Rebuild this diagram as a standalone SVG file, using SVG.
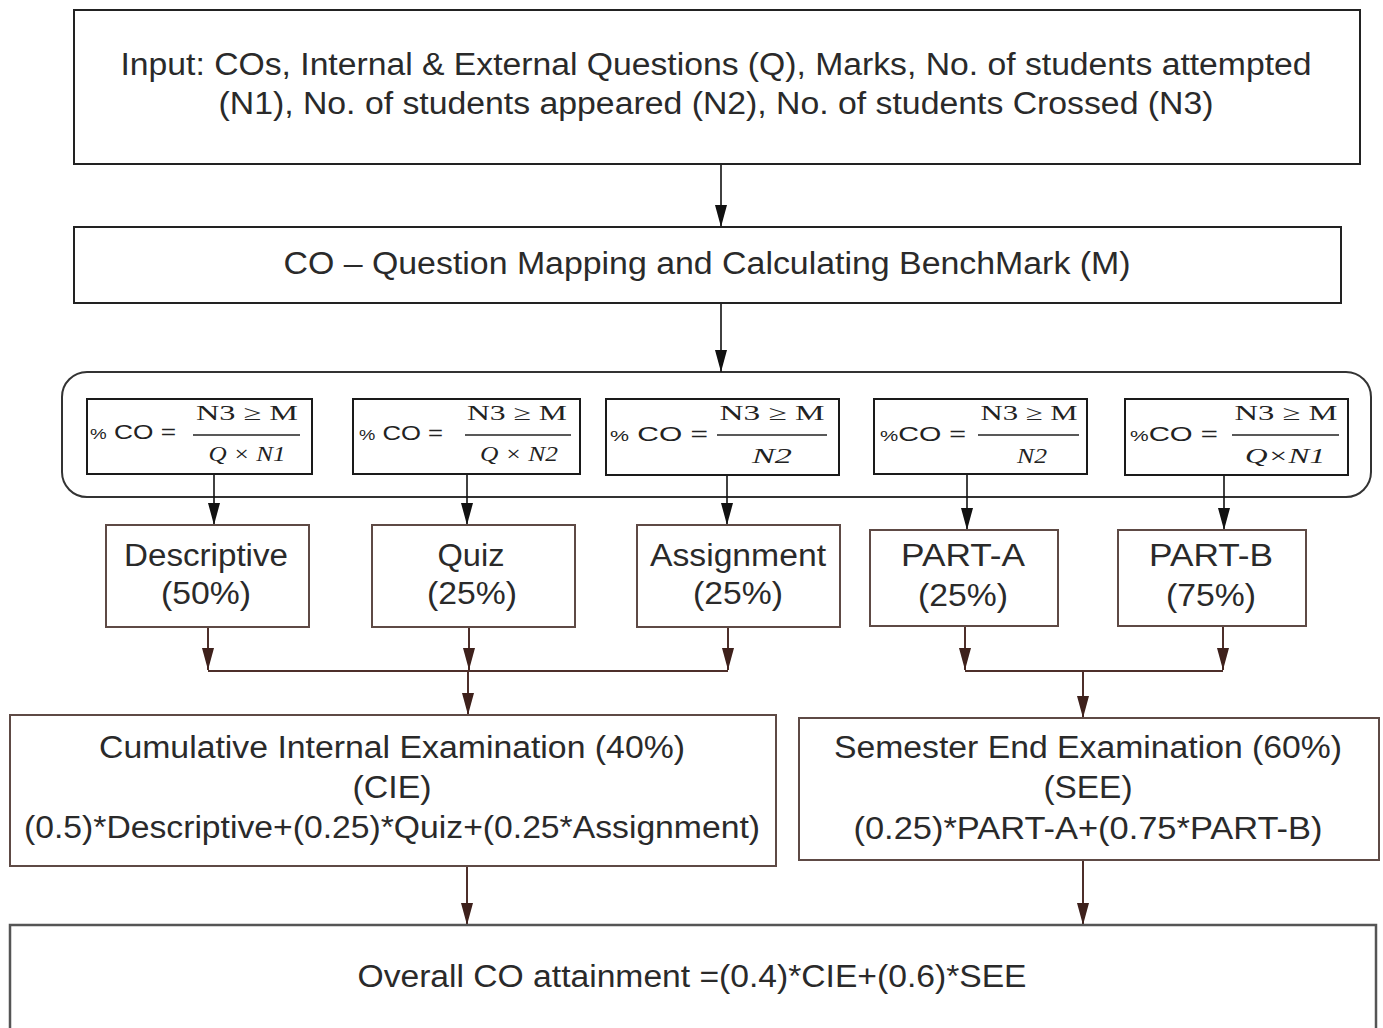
<svg xmlns="http://www.w3.org/2000/svg" width="1383" height="1028" viewBox="0 0 1383 1028">
<defs>
<style>
.t{font-family:"Liberation Sans",Arial,sans-serif;font-size:31px;fill:#2a2a2a;text-anchor:middle}
.f{font-family:"Liberation Sans",Arial,sans-serif;font-size:21px;fill:#222}
.n{font-family:"Liberation Serif","Times New Roman",serif;font-size:21px;fill:#222;text-anchor:middle}
.d{font-family:"Liberation Serif","Times New Roman",serif;font-size:21px;font-style:italic;fill:#222;text-anchor:middle}
.bk{fill:#fff;stroke:#222;stroke-width:2}
.br{fill:#fff;stroke:#5e4a45;stroke-width:2}
.fb{fill:#fff;stroke:#1a1a1a;stroke-width:2}
.fl{stroke:#222;stroke-width:1.6}
.ck{stroke:#111;stroke-width:1.6;fill:none}
.cb{stroke:#4e2f2a;stroke-width:2;fill:none}
</style>
<marker id="ak" viewBox="0 0 22 12" refX="22" refY="6" markerWidth="22" markerHeight="12" markerUnits="userSpaceOnUse" orient="auto"><path d="M0,0 L22,6 L0,12 z" fill="#111"/></marker>
<marker id="ab" viewBox="0 0 22 12" refX="22" refY="6" markerWidth="22" markerHeight="12" markerUnits="userSpaceOnUse" orient="auto"><path d="M0,0 L22,6 L0,12 z" fill="#3e211c"/></marker>
</defs>
<rect width="1383" height="1028" fill="#fff"/>

<g id="container"><rect x="62" y="372" width="1309" height="125" rx="25" ry="25" fill="none" stroke="#333" stroke-width="2"/></g>

<g id="connectors">
<line class="ck" x1="721" y1="164" x2="721" y2="227" marker-end="url(#ak)"/>
<line class="ck" x1="721" y1="304" x2="721" y2="372" marker-end="url(#ak)"/>
<line class="ck" x1="214" y1="474" x2="214" y2="525" marker-end="url(#ak)"/>
<line class="ck" x1="467" y1="474" x2="467" y2="525" marker-end="url(#ak)"/>
<line class="ck" x1="727" y1="476" x2="727" y2="525" marker-end="url(#ak)"/>
<line class="ck" x1="967" y1="474" x2="967" y2="530" marker-end="url(#ak)"/>
<line class="ck" x1="1224" y1="474" x2="1224" y2="530" marker-end="url(#ak)"/>
<line class="cb" x1="208" y1="627" x2="208" y2="670" marker-end="url(#ab)"/>
<line class="cb" x1="469" y1="627" x2="469" y2="670" marker-end="url(#ab)"/>
<line class="cb" x1="728" y1="627" x2="728" y2="670" marker-end="url(#ab)"/>
<line class="cb" x1="208" y1="671" x2="728" y2="671"/>
<line class="cb" x1="468" y1="671" x2="468" y2="715" marker-end="url(#ab)"/>
<line class="cb" x1="965" y1="626" x2="965" y2="670" marker-end="url(#ab)"/>
<line class="cb" x1="1223" y1="626" x2="1223" y2="670" marker-end="url(#ab)"/>
<line class="cb" x1="965" y1="671" x2="1223" y2="671"/>
<line class="cb" x1="1083" y1="671" x2="1083" y2="718" marker-end="url(#ab)"/>
<line class="cb" x1="467" y1="866" x2="467" y2="925" marker-end="url(#ab)"/>
<line class="cb" x1="1083" y1="860" x2="1083" y2="925" marker-end="url(#ab)"/>
</g>

<g id="input">
<rect class="bk" x="74" y="10" width="1286" height="154"/>
<text class="t" x="716" y="75" textLength="1191" lengthAdjust="spacingAndGlyphs">Input: COs, Internal &amp; External Questions (Q), Marks, No. of students attempted</text>
<text class="t" x="716" y="114" textLength="995" lengthAdjust="spacingAndGlyphs">(N1), No. of students appeared (N2), No. of students Crossed (N3)</text>
</g>

<g id="mapping">
<rect class="bk" x="74" y="227" width="1267" height="76"/>
<text class="t" x="707" y="274" textLength="847" lengthAdjust="spacingAndGlyphs">CO – Question Mapping and Calculating BenchMark (M)</text>
</g>

<g id="f1">
<rect class="fb" x="87" y="399" width="225" height="75"/>
<text class="f" x="90" y="439" textLength="86" lengthAdjust="spacingAndGlyphs"><tspan font-size="15">%</tspan> CO =</text>
<text class="n" x="247" y="420" textLength="102" lengthAdjust="spacingAndGlyphs">N3  ≥  M</text>
<line class="fl" x1="193" y1="435" x2="300" y2="435"/>
<text class="d" x="247" y="461" textLength="77" lengthAdjust="spacingAndGlyphs">Q × N1</text>
</g>
<g id="f2">
<rect class="fb" x="353" y="399" width="227" height="75"/>
<text class="f" x="359" y="440" textLength="84" lengthAdjust="spacingAndGlyphs"><tspan font-size="15">%</tspan> CO  =</text>
<text class="n" x="517" y="420" textLength="100" lengthAdjust="spacingAndGlyphs">N3  ≥  M</text>
<line class="fl" x1="465" y1="435" x2="571" y2="435"/>
<text class="d" x="519" y="461" textLength="78" lengthAdjust="spacingAndGlyphs">Q × N2</text>
</g>
<g id="f3">
<rect class="fb" x="606" y="399" width="233" height="76"/>
<text class="f" x="610" y="441" textLength="98" lengthAdjust="spacingAndGlyphs"><tspan font-size="15">%</tspan> CO =</text>
<text class="n" x="772" y="420" textLength="105" lengthAdjust="spacingAndGlyphs">N3  ≥  M</text>
<line class="fl" x1="717" y1="435" x2="827" y2="435"/>
<text class="d" x="772" y="463" textLength="40" lengthAdjust="spacingAndGlyphs">N2</text>
</g>
<g id="f4">
<rect class="fb" x="874" y="399" width="213" height="75"/>
<text class="f" x="880" y="441" textLength="86" lengthAdjust="spacingAndGlyphs"><tspan font-size="15">%</tspan>CO =</text>
<text class="n" x="1029" y="420" textLength="97" lengthAdjust="spacingAndGlyphs">N3 ≥ M</text>
<line class="fl" x1="978" y1="435" x2="1079" y2="435"/>
<text class="d" x="1032" y="463" textLength="30" lengthAdjust="spacingAndGlyphs">N2</text>
</g>
<g id="f5">
<rect class="fb" x="1125" y="399" width="223" height="76"/>
<text class="f" x="1130" y="441" textLength="88" lengthAdjust="spacingAndGlyphs"><tspan font-size="15">%</tspan>CO =</text>
<text class="n" x="1286" y="420" textLength="103" lengthAdjust="spacingAndGlyphs">N3  ≥ M</text>
<line class="fl" x1="1232" y1="435" x2="1339" y2="435"/>
<text class="d" x="1285" y="463" textLength="80" lengthAdjust="spacingAndGlyphs">Q×N1</text>
</g>

<g id="descriptive">
<rect class="br" x="106" y="525" width="203" height="102"/>
<text class="t" x="206" y="566" textLength="164" lengthAdjust="spacingAndGlyphs">Descriptive</text>
<text class="t" x="206" y="604" textLength="90" lengthAdjust="spacingAndGlyphs">(50%)</text>
</g>
<g id="quiz">
<rect class="br" x="372" y="525" width="203" height="102"/>
<text class="t" x="471" y="566" textLength="67" lengthAdjust="spacingAndGlyphs">Quiz</text>
<text class="t" x="472" y="604" textLength="90" lengthAdjust="spacingAndGlyphs">(25%)</text>
</g>
<g id="assignment">
<rect class="br" x="637" y="525" width="203" height="102"/>
<text class="t" x="738" y="566" textLength="176" lengthAdjust="spacingAndGlyphs">Assignment</text>
<text class="t" x="738" y="604" textLength="90" lengthAdjust="spacingAndGlyphs">(25%)</text>
</g>
<g id="parta">
<rect class="br" x="870" y="530" width="188" height="96"/>
<text class="t" x="963" y="566" textLength="124" lengthAdjust="spacingAndGlyphs">PART-A</text>
<text class="t" x="963" y="606" textLength="90" lengthAdjust="spacingAndGlyphs">(25%)</text>
</g>
<g id="partb">
<rect class="br" x="1118" y="530" width="188" height="96"/>
<text class="t" x="1211" y="566" textLength="124" lengthAdjust="spacingAndGlyphs">PART-B</text>
<text class="t" x="1211" y="606" textLength="90" lengthAdjust="spacingAndGlyphs">(75%)</text>
</g>

<g id="cie">
<rect class="br" x="10" y="715" width="766" height="151"/>
<text class="t" x="392" y="758" textLength="586" lengthAdjust="spacingAndGlyphs">Cumulative Internal Examination (40%)</text>
<text class="t" x="392" y="798" textLength="79" lengthAdjust="spacingAndGlyphs">(CIE)</text>
<text class="t" x="392" y="838" textLength="736" lengthAdjust="spacingAndGlyphs">(0.5)*Descriptive+(0.25)*Quiz+(0.25*Assignment)</text>
</g>
<g id="see">
<rect class="br" x="799" y="718" width="580" height="142"/>
<text class="t" x="1088" y="758" textLength="508" lengthAdjust="spacingAndGlyphs">Semester End Examination (60%)</text>
<text class="t" x="1088" y="798" textLength="89" lengthAdjust="spacingAndGlyphs">(SEE)</text>
<text class="t" x="1088" y="839" textLength="469" lengthAdjust="spacingAndGlyphs">(0.25)*PART-A+(0.75*PART-B)</text>
</g>
<g id="overall">
<rect x="10" y="925" width="1366" height="120" fill="#fff" stroke="#555" stroke-width="2.5"/>
<text class="t" x="692" y="987" textLength="669" lengthAdjust="spacingAndGlyphs">Overall CO attainment =(0.4)*CIE+(0.6)*SEE</text>
</g>
</svg>
